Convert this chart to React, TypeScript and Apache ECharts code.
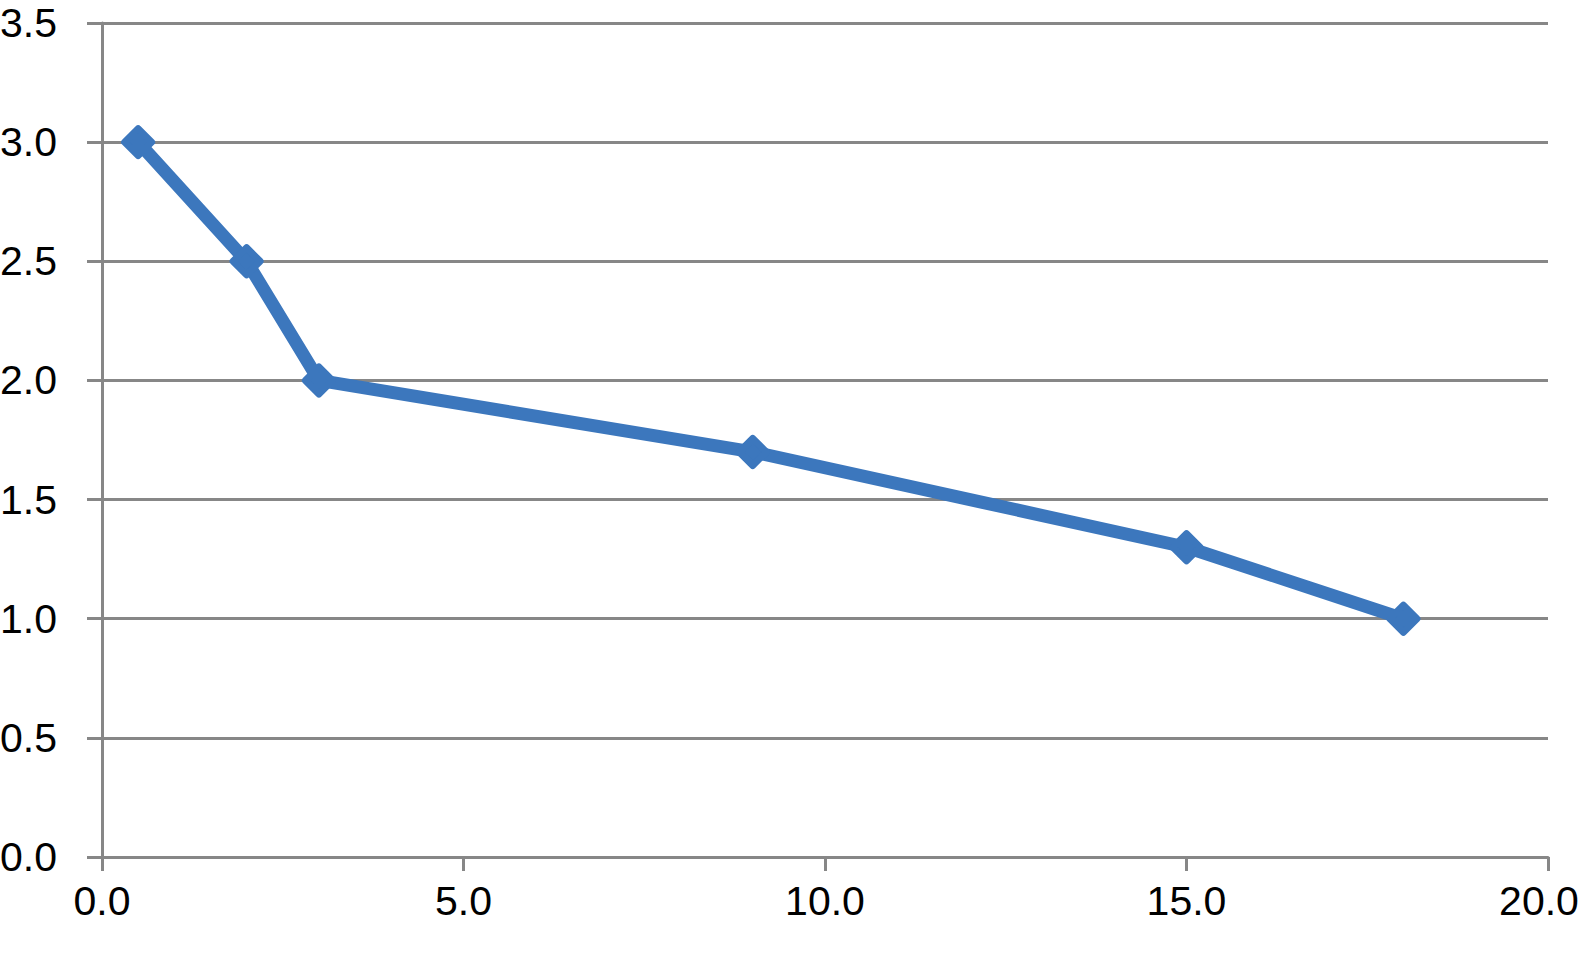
import React, { useEffect, useRef } from "react";
import * as echarts from "echarts";

const xValues = [0.5, 2.0, 3.0, 9.0, 15.0, 18.0];
const yValues = [3.0, 2.5, 2.0, 1.7, 1.3, 1.0];
const xTicks = { min: 0, max: 20, interval: 5 };
const yTicks = { min: 0, max: 3.5, interval: 0.5 };

const LINE_COLOR = "#3c77bd";
const GRID_COLOR = "#878787";
const FONT = "'Liberation Sans', Arial, Helvetica, sans-serif";

export default function App() {
  const ref = useRef<HTMLDivElement>(null);
  useEffect(() => {
    if (!ref.current) return;
    const chart = echarts.init(ref.current, null, { renderer: "svg" });
    const data = xValues.map((x, i) => [x, yValues[i]]);
    chart.setOption({
      animation: false,
      backgroundColor: "#ffffff",
      grid: {
        left: 102,
        right: 33,
        top: 23,
        bottom: 116,
        containLabel: false,
        outerBoundsMode: "none",
      },
      xAxis: {
        type: "value",
        min: xTicks.min,
        max: xTicks.max,
        interval: xTicks.interval,
        axisLine: { show: true, onZero: false, lineStyle: { color: GRID_COLOR, width: 3 } },
        axisTick: { show: true, length: 14, lineStyle: { color: GRID_COLOR, width: 3 } },
        splitLine: { show: false },
        axisLabel: {
          color: "#000",
          fontSize: 41,
          fontFamily: FONT,
          margin: 23,
          hideOverlap: false,
          formatter: (v: number) =>
            v === xTicks.max ? `{last|${v.toFixed(1)}}` : v.toFixed(1),
          rich: {
            last: {
              color: "#000",
              fontSize: 41,
              fontFamily: FONT,
              padding: [0, 18, 0, 0],
            },
          },
        },
      },
      yAxis: {
        type: "value",
        min: yTicks.min,
        max: yTicks.max,
        interval: yTicks.interval,
        axisLine: { show: true, onZero: false, lineStyle: { color: GRID_COLOR, width: 3 } },
        axisTick: { show: true, length: 15, lineStyle: { color: GRID_COLOR, width: 3 } },
        splitLine: { show: true, lineStyle: { color: GRID_COLOR, width: 3 } },
        axisLabel: {
          color: "#000",
          fontSize: 41,
          fontFamily: FONT,
          margin: 45,
          formatter: (v: number) => v.toFixed(1),
        },
      },
      series: [
        {
          type: "line",
          data,
          symbol: "diamond",
          symbolSize: 27,
          showAllSymbol: true,
          lineStyle: { color: LINE_COLOR, width: 13, join: "round" },
          itemStyle: {
            color: LINE_COLOR,
            borderColor: LINE_COLOR,
            borderWidth: 7,
            borderJoin: "round",
          },
        },
      ],
    });
    return () => chart.dispose();
  }, []);
  return (
    <div
      ref={ref}
      style={{ position: "fixed", left: 0, top: 0, width: 1581, height: 973 }}
    />
  );
}
